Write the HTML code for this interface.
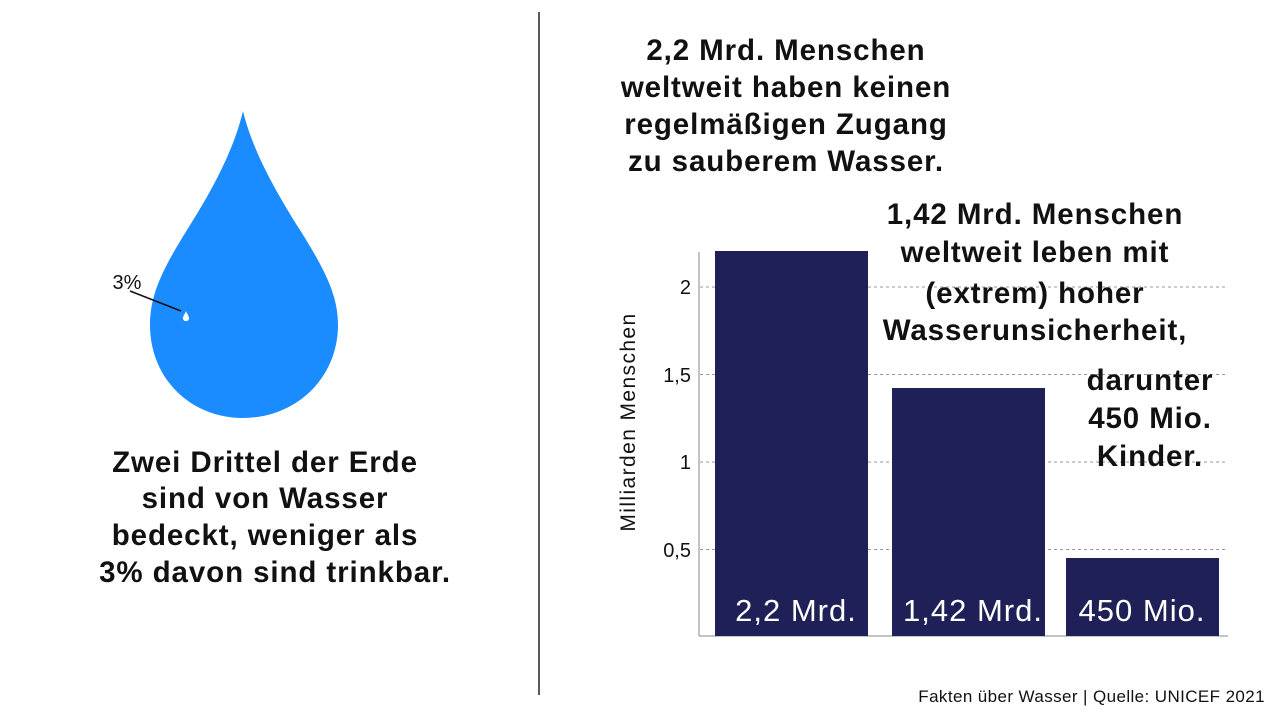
<!DOCTYPE html>
<html><head><meta charset="utf-8"><style>
body{margin:0;width:1280px;height:720px;background:#fff;overflow:hidden;font-family:"Liberation Sans",sans-serif;}
</style></head><body>
<svg width="1280" height="720" viewBox="0 0 1280 720" xmlns="http://www.w3.org/2000/svg" font-family="Liberation Sans, sans-serif">
<line x1="539" y1="12" x2="539" y2="695" stroke="#222" stroke-width="1.5"/>
<path d="M243,111 C250,140 265,175 300,230 C325,270 338,295 338,325 C338,378 296,418 243,418 C190,418 150,378 150,325 C150,295 162,270 187,230 C222,175 236,140 243,111 Z" fill="#1a8cff"/>
<path d="M186,311 C187,314 189,316 189,318 C189,320 188,321 186,321 C184,321 183,320 183,318 C183,316 185,314 186,311Z" fill="#fff"/>
<line x1="130" y1="291" x2="181" y2="311" stroke="#111" stroke-width="1.5"/>
<text x="127" y="289" font-size="20" text-anchor="middle" fill="#111">3%</text>
<g font-size="29.5" font-weight="bold" fill="#111" text-anchor="middle" letter-spacing="0.9">
<text x="265" y="472">Zwei Drittel der Erde</text>
<text x="265" y="508">sind von Wasser</text>
<text x="265" y="545">bedeckt, weniger als</text>
<text x="275" y="582">3% davon sind trinkbar.</text>
<text x="786" y="60">2,2 Mrd. Menschen</text>
<text x="786" y="97">weltweit haben keinen</text>
<text x="786" y="134">regelmäßigen Zugang</text>
<text x="786" y="171">zu sauberem Wasser.</text>
</g>
<g stroke="#999" stroke-dasharray="3,3" stroke-width="1">
<line x1="700" y1="287" x2="1228" y2="287"/>
<line x1="700" y1="374.5" x2="1228" y2="374.5"/>
<line x1="700" y1="462" x2="1228" y2="462"/>
<line x1="700" y1="549.5" x2="1228" y2="549.5"/>
</g>
<line x1="699" y1="252" x2="699" y2="636" stroke="#888" stroke-width="1"/>
<line x1="699" y1="636" x2="1228" y2="636" stroke="#888" stroke-width="1"/>
<rect x="715" y="251" width="153" height="385" fill="#1f2058"/>
<rect x="892" y="388" width="153" height="248" fill="#1f2058"/>
<rect x="1066" y="558" width="153" height="78" fill="#1f2058"/>
<g font-size="29.5" font-weight="bold" fill="#111" text-anchor="middle" letter-spacing="0.9">
<text x="1035" y="224">1,42 Mrd. Menschen</text>
<text x="1035" y="262">weltweit leben mit</text>
<text x="1035" y="303">(extrem) hoher</text>
<text x="1035" y="340">Wasserunsicherheit,</text>
<text x="1150" y="390">darunter</text>
<text x="1150" y="428">450 Mio.</text>
<text x="1150" y="466">Kinder.</text>
</g>
<g font-size="31" fill="#fff" text-anchor="middle" letter-spacing="1">
<text x="796" y="621">2,2 Mrd.</text>
<text x="973" y="621">1,42 Mrd.</text>
<text x="1142" y="621">450 Mio.</text>
</g>
<g font-size="20" fill="#111" text-anchor="end">
<text x="691" y="294">2</text>
<text x="691" y="382">1,5</text>
<text x="691" y="469">1</text>
<text x="691" y="557">0,5</text>
</g>
<text transform="translate(635,422) rotate(-90)" font-size="21" fill="#111" text-anchor="middle" letter-spacing="1.4">Milliarden Menschen</text>
<text x="1265" y="702" font-size="17" fill="#111" text-anchor="end" letter-spacing="0.4">Fakten über Wasser  |  Quelle: UNICEF 2021</text>
</svg>
</body></html>
